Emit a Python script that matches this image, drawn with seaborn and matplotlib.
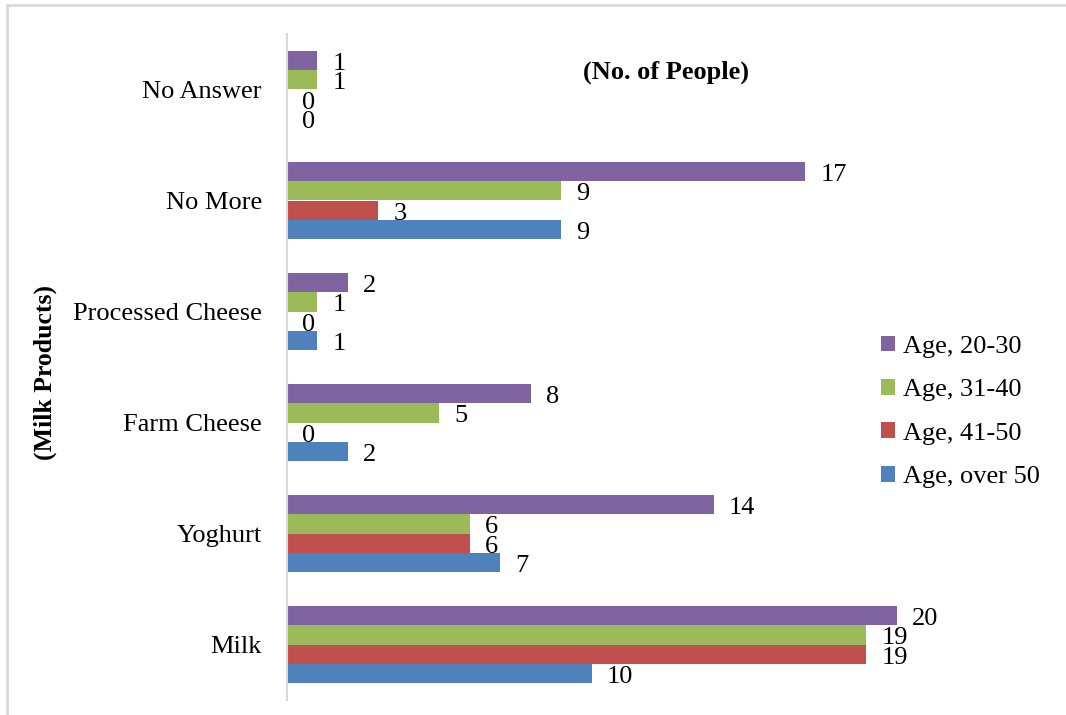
import matplotlib
matplotlib.use("Agg")
import matplotlib.pyplot as plt
import seaborn as sns
import pandas as pd
from matplotlib.lines import Line2D

categories = ["No Answer", "No More", "Processed Cheese", "Farm Cheese", "Yoghurt", "Milk"]
series = ["Age, 20-30", "Age, 31-40", "Age, 41-50", "Age, over 50"]
age_20_30 = [1, 17, 2, 8, 14, 20]
age_31_40 = [1, 9, 1, 5, 6, 19]
age_41_50 = [0, 3, 0, 0, 6, 19]
age_over_50 = [0, 9, 1, 2, 7, 10]
colors = ["#8064A2", "#9BBB59", "#C0504D", "#4F81BD"]

values = [age_20_30, age_31_40, age_41_50, age_over_50]
rows = []
for s, vals in zip(series, values):
    for c, v in zip(categories, vals):
        rows.append({"Product": c, "Age": s, "People": v})
df = pd.DataFrame(rows)

sns.set_style("white")
plt.rcParams["font.family"] = ["Liberation Serif", "DejaVu Serif"]
plt.rcParams["text.color"] = "black"
plt.rcParams["ytick.color"] = "black"

fig = plt.figure(figsize=(10.66, 7.15), dpi=100)
ax = fig.add_axes([287/1066, 1-700/715, (927-287)/1066, (700-34)/715])

sns.barplot(data=df, y="Product", x="People", hue="Age", order=categories,
            hue_order=series, palette=colors, orient="h", width=0.69,
            linewidth=0, saturation=1, ax=ax, legend=True)

for cont in ax.containers:
    anns = ax.bar_label(cont, labels=[f"{int(b.get_width())}" for b in cont],
                        padding=11, fontsize=19, color="black")
    for a in anns:
        a.xyann = (11, -2.5)

ax.set_xlim(0, 21)
ax.set_ylim(5.5, -0.5)
ax.set_xlabel("")
ax.set_ylabel("")
ax.set_xticks([])
for s in ["top", "right", "bottom"]:
    ax.spines[s].set_visible(False)
ax.spines["left"].set_color("#d9d9d9")
ax.spines["left"].set_linewidth(1.5)
ax.tick_params(axis="y", length=0, pad=18, labelsize=19, labelcolor="black")

leg = ax.legend(loc="upper left", bbox_to_anchor=(870/1066, 1-325/715),
                bbox_transform=fig.transFigure, frameon=False, fontsize=19,
                handlelength=0.55, handleheight=0.55, handletextpad=0.3,
                labelspacing=0.8, borderaxespad=0)
for t in leg.get_texts():
    t.set_color("black")

fig.text(666/1066, 1-72/715, "(No. of People)", ha="center", va="center",
         fontsize=19, fontweight="bold", color="black")
fig.text(45/1066, 1-372/715, "(Milk Products)", ha="center", va="center",
         rotation=90, fontsize=18.5, fontweight="bold", color="black")

fig.add_artist(Line2D([7/1066, 1], [1-5/715, 1-5/715], transform=fig.transFigure,
                      color="#d9d9d9", linewidth=2))
fig.add_artist(Line2D([7/1066, 7/1066], [0, 1-5/715], transform=fig.transFigure,
                      color="#d9d9d9", linewidth=2))

fig.savefig("out.png", dpi=100)
